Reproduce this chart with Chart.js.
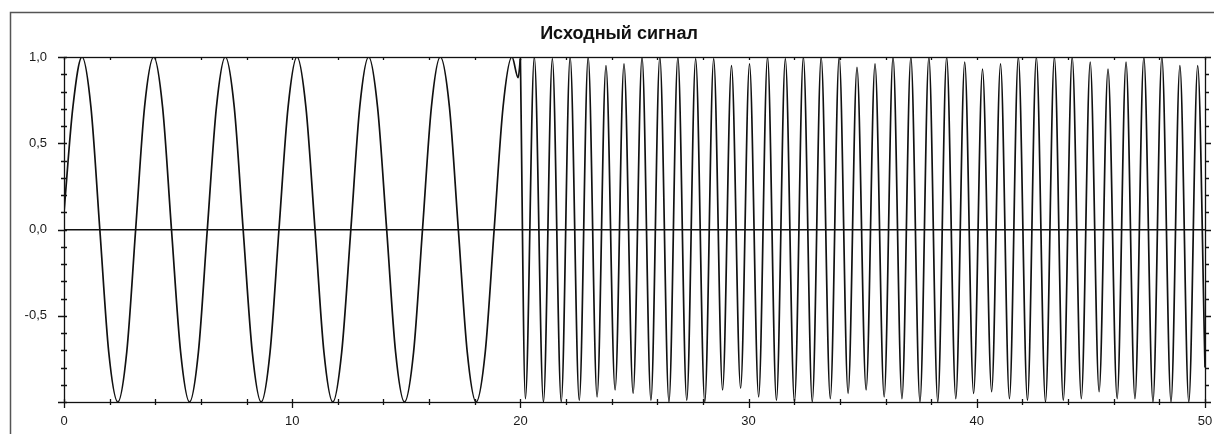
<!DOCTYPE html>
<html lang="ru">
<head>
<meta charset="utf-8">
<title>Исходный сигнал</title>
<script src="https://cdn.jsdelivr.net/npm/chart.js@4.4.1/dist/chart.umd.min.js"></script>
<style>
  html, body { margin: 0; padding: 0; background: #fff; }
  #wrap { position: relative; width: 1215px; height: 434px; }
</style>
</head>
<body>
<div id="wrap"><canvas id="signal" width="1215" height="434"></canvas></div>
<script>
// Заголовок и подписи осей
const chartTitle = 'Исходный сигнал';
const xTickValues = [0, 10, 20, 30, 40, 50];
const xTickLabels = ['0', '10', '20', '30', '40', '50'];
const yTickValues = [1, 0.5, 0, -0.5];
const yTickLabels = ['1,0', '0,5', '0,0', '-0,5'];

// Медленная часть сигнала (0..20)
const slowX = [0.00, 0.39, 0.79, 1.18, 1.57, 1.96, 2.36, 2.75, 3.14, 3.53,
  3.93, 4.32, 4.71, 5.11, 5.50, 5.89, 6.28, 6.68, 7.07, 7.46,
  7.85, 8.25, 8.64, 9.03, 9.42, 9.82, 10.21, 10.60, 11.00, 11.39,
  11.78, 12.17, 12.57, 12.96, 13.35, 13.74, 14.14, 14.53, 14.92, 15.32,
  15.71, 16.10, 16.49, 16.89, 17.28, 17.67, 18.06, 18.46, 18.85, 19.24, 19.63,
  19.90, 20.00];
const slowY = [0.10, 0.71, 1.00, 0.71, 0.00, -0.71, -1.00, -0.71, 0.00, 0.71,
  1.00, 0.71, 0.00, -0.71, -1.00, -0.71, 0.00, 0.71, 1.00, 0.71,
  0.00, -0.71, -1.00, -0.71, 0.00, 0.71, 1.00, 0.71, 0.00, -0.71,
  -1.00, -0.71, 0.00, 0.71, 1.00, 0.71, 0.00, -0.71, -1.00, -0.71,
  0.00, 0.71, 1.00, 0.71, 0.00, -0.71, -1.00, -0.71, 0.00, 0.71, 1.00,
  0.88, 0.99];

// Быстрая часть (20..50): начало и конец
const fastEdgeX = [20.00, 50.00];
const fastEdgeY = [0.99, -0.80];

// Быстрая часть: максимумы
const fastPeakX = [20.61, 21.40, 22.18, 22.97, 23.75, 24.54, 25.33, 26.11, 26.90, 27.68,
  28.47, 29.25, 30.04, 30.83, 31.61, 32.40, 33.18, 33.97, 34.75, 35.54,
  36.33, 37.11, 37.90, 38.68, 39.47, 40.25, 41.04, 41.82, 42.61, 43.40,
  44.18, 44.97, 45.75, 46.54, 47.32, 48.11, 48.90, 49.68];
const fastPeakY = [1.00, 0.99, 1.00, 1.00, 0.95, 0.96, 1.00, 1.00, 1.00, 0.99,
  0.99, 0.95, 0.96, 1.00, 0.99, 1.00, 1.00, 1.00, 0.94, 0.96,
  1.00, 1.00, 1.00, 1.00, 0.97, 0.93, 0.96, 1.00, 1.00, 1.00,
  1.00, 0.97, 0.93, 0.97, 1.00, 1.00, 0.95, 0.95];

// Быстрая часть: минимумы
const fastTroughX = [20.22, 21.01, 21.79, 22.58, 23.36, 24.15, 24.94, 25.72, 26.51, 27.29,
  28.08, 28.86, 29.65, 30.44, 31.22, 32.01, 32.79, 33.58, 34.36, 35.15,
  35.94, 36.72, 37.51, 38.29, 39.08, 39.86, 40.65, 41.43, 42.22, 43.01,
  43.79, 44.58, 45.36, 46.15, 46.93, 47.72, 48.51, 49.29];
const fastTroughY = [-0.98, -1.00, -1.00, -0.99, -0.97, -0.93, -0.95, -0.99, -1.00, -0.99,
  -1.00, -0.93, -0.92, -0.97, -0.99, -1.00, -1.00, -0.98, -0.95, -0.93,
  -0.97, -0.98, -1.00, -1.00, -0.98, -0.95, -0.94, -0.98, -0.99, -1.00,
  -0.99, -0.98, -0.94, -0.98, -0.98, -1.00, -1.00, -1.00];

// Медленная часть — гладкая кривая
const slowPoints = slowX.map((x, i) => ({ x: x, y: slowY[i] }));

// Быстрая часть — по экстремумам, отсортированная по x
const fastPoints = [];
fastEdgeX.forEach((x, i) => fastPoints.push({ x: x, y: fastEdgeY[i] }));
fastPeakX.forEach((x, i) => fastPoints.push({ x: x, y: fastPeakY[i] }));
fastTroughX.forEach((x, i) => fastPoints.push({ x: x, y: fastTroughY[i] }));
fastPoints.sort((a, b) => a.x - b.x);

const labelFont = { family: '"Liberation Sans", Arial, sans-serif', size: 13 };

// Рамка, засечки и заголовок в стиле исходного графика
const framePlugin = {
  id: 'frame',
  afterDraw(chart) {
    const ctx = chart.ctx;
    const area = chart.chartArea;
    const sx = chart.scales.x;
    const sy = chart.scales.y;

    ctx.save();
    // внешняя рамка (верх и левый край)
    ctx.strokeStyle = '#555';
    ctx.lineWidth = 1.5;
    ctx.beginPath();
    ctx.moveTo(10.5, 434);
    ctx.lineTo(10.5, 12.5);
    ctx.lineTo(1214, 12.5);
    ctx.stroke();

    // рамка области построения
    ctx.strokeStyle = '#111';
    ctx.lineWidth = 1.3;
    ctx.strokeRect(Math.round(area.left) + 0.5, Math.round(area.top) + 0.5,
      Math.round(area.right - area.left), Math.round(area.bottom - area.top));

    // засечки по x
    ctx.beginPath();
    for (let v = 0; v <= 50; v += 2) {
      const px = Math.round(sx.getPixelForValue(v)) + 0.5;
      const major = v % 10 === 0;
      ctx.moveTo(px, area.bottom - 3);
      ctx.lineTo(px, area.bottom + (major ? 6 : 3));
      ctx.moveTo(px, area.top);
      ctx.lineTo(px, area.top + 3);
    }
    // засечки по y
    for (let k = -10; k <= 10; k++) {
      const py = Math.round(sy.getPixelForValue(k / 10)) + 0.5;
      const major = k % 5 === 0;
      ctx.moveTo(area.left - (major ? 6 : 3), py);
      ctx.lineTo(area.left + 3, py);
      ctx.moveTo(area.right, py);
      ctx.lineTo(area.right + (major ? 6 : 4), py);
    }
    ctx.stroke();

    // заголовок
    ctx.fillStyle = '#111';
    ctx.font = 'bold 18px "Liberation Sans", Arial, sans-serif';
    ctx.textAlign = 'center';
    ctx.textBaseline = 'middle';
    ctx.fillText(chartTitle, 619, 34);
    ctx.restore();
  }
};

new Chart(document.getElementById('signal'), {
  type: 'line',
  data: {
    datasets: [{
      label: chartTitle,
      data: slowPoints,
      borderColor: '#111',
      borderWidth: 1.7,
      pointRadius: 0,
      fill: false,
      cubicInterpolationMode: 'monotone'
    }, {
      label: chartTitle + ' (быстрая часть)',
      data: fastPoints,
      borderColor: '#111',
      borderWidth: 1.7,
      pointRadius: 0,
      fill: false,
      cubicInterpolationMode: 'monotone'
    }]
  },
  options: {
    responsive: false,
    animation: false,
    events: [],
    layout: { padding: { top: 57, right: 0, bottom: 0, left: 0 } },
    plugins: {
      legend: { display: false },
      title: { display: false },
      tooltip: { enabled: false }
    },
    scales: {
      x: {
        type: 'linear',
        position: 'bottom',
        min: 0,
        max: 50,
        afterBuildTicks(scale) {
          scale.ticks = xTickValues.map(v => ({ value: v }));
        },
        afterFit(scale) {
          scale.height = 32;
          scale.paddingLeft = 0;
          scale.paddingRight = 0;
        },
        ticks: {
          padding: 12,
          color: '#1a1a1a',
          font: labelFont,
          maxRotation: 0,
          callback(value) {
            const i = xTickValues.indexOf(value);
            return i >= 0 ? xTickLabels[i] : '';
          }
        },
        grid: { display: false, drawTicks: false },
        border: { display: false }
      },
      y: {
        type: 'linear',
        position: 'left',
        min: -1,
        max: 1,
        afterFit(scale) {
          scale.width = 64;
          scale.paddingTop = 0;
          scale.paddingBottom = 0;
        },
        ticks: {
          stepSize: 0.5,
          padding: 17,
          color: '#1a1a1a',
          font: labelFont,
          callback(value) {
            const i = yTickValues.indexOf(value);
            return i >= 0 ? yTickLabels[i] : '';
          }
        },
        grid: {
          drawTicks: false,
          lineWidth: 1.5,
          color: ctx => (ctx.tick && ctx.tick.value === 0 ? '#111' : 'rgba(0,0,0,0)')
        },
        border: { display: false }
      },
      yRight: {
        type: 'linear',
        position: 'right',
        min: -1,
        max: 1,
        afterFit(scale) { scale.width = 10; },
        ticks: { display: false },
        grid: { drawOnChartArea: false, drawTicks: false },
        border: { display: false }
      }
    }
  },
  plugins: [framePlugin]
});
</script>
</body>
</html>
